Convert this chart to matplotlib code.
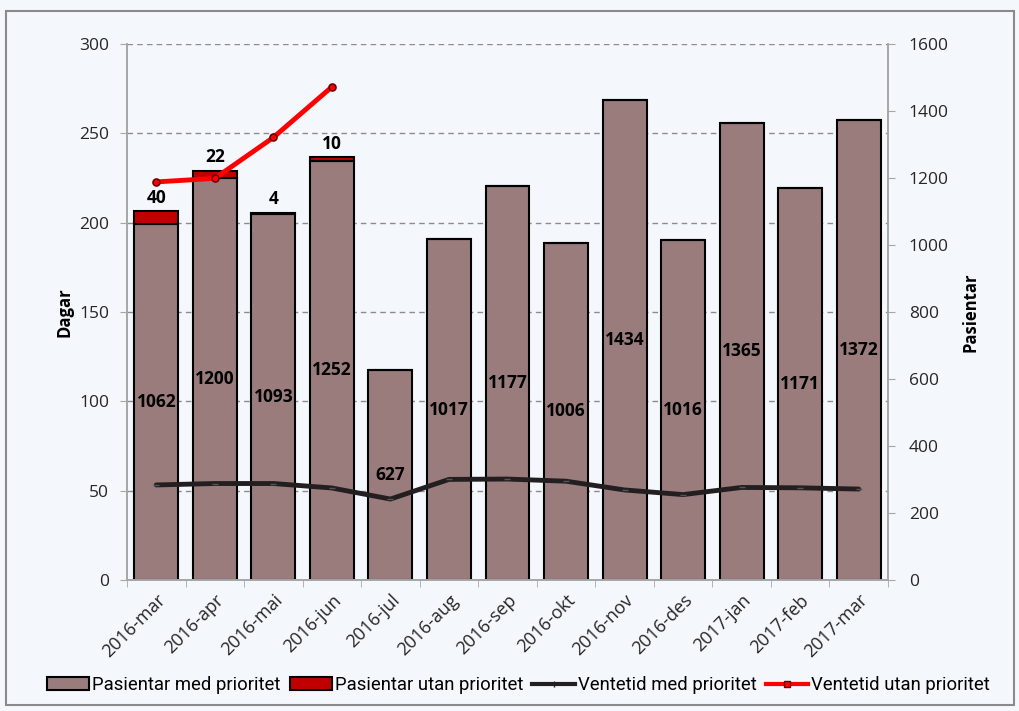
import matplotlib
matplotlib.use("Agg")
import matplotlib.pyplot as plt
import numpy as np
from matplotlib.patches import Rectangle, Patch
from matplotlib.lines import Line2D

categories = ["2016-mar", "2016-apr", "2016-mai", "2016-jun", "2016-jul", "2016-aug",
              "2016-sep", "2016-okt", "2016-nov", "2016-des", "2017-jan", "2017-feb", "2017-mar"]
pasientar_med = [1062, 1200, 1093, 1252, 627, 1017, 1177, 1006, 1434, 1016, 1365, 1171, 1372]
pasientar_utan = [40, 22, 4, 10, 0, 0, 0, 0, 0, 0, 0, 0, 0]
ventetid_med = [53.2, 54.0, 54.0, 51.5, 45.3, 56.3, 56.5, 55.3, 50.4, 47.8, 51.8, 51.6, 50.9]
ventetid_utan = [222.8, 224.8, 247.7, 276.0]

FONT = ["Open Sans", "DejaVu Sans"]
plt.rcParams['font.family'] = FONT

bg = "#F4F7FC"
bar_col = "#9A7C7D"
red_bar = "#C00000"
grid_col = "#8C8C8C"
axis_col = "#A6A6A6"

fig = plt.figure(figsize=(10.2, 7.11), dpi=100, facecolor=bg)
fig.patches.append(Rectangle((6/1020, 6/711), 1008/1020, 694/711, transform=fig.transFigure,
                             fill=False, edgecolor="#8A8A8A", linewidth=1.5, zorder=0))

ax = fig.add_axes([127/1020, 1 - 580/711, (888 - 127)/1020, (580 - 44)/711])
ax.set_facecolor(bg)
ax2 = ax.twinx()

x = np.arange(len(categories))
ax.set_zorder(ax2.get_zorder() + 1)
ax.patch.set_visible(False)
ax2.patch.set_visible(True)
ax2.patch.set_facecolor(bg)

ax.set_ylim(0, 300)
ax2.set_ylim(0, 1600)
ax.set_xlim(-0.5, len(categories) - 0.5)

ax2.set_yticks(np.arange(0, 1601, 200))
ax.set_yticks(np.arange(0, 301, 50))
for v in np.arange(50, 301, 50):
    ax2.axhline(v * 1600 / 300, color=grid_col, linestyle=(0, (4, 3)), linewidth=1.0, zorder=0)

w = 0.75
ax2.bar(x, pasientar_med, width=w, color=bar_col, edgecolor="black", linewidth=1.5, zorder=2)
ax2.bar(x, pasientar_utan, width=w, bottom=pasientar_med, color=red_bar, edgecolor="black",
        linewidth=1.5, zorder=2)

for i, v in enumerate(pasientar_med):
    ax2.text(x[i], v / 2, str(v), ha="center", va="center", fontsize=12.5, fontweight="bold",
             color="black", zorder=5)
for i, v in enumerate(pasientar_utan):
    if v:
        ax2.annotate(str(v), (x[i], pasientar_med[i] + v), xytext=(0, 3), textcoords="offset points",
                     ha="center", va="bottom", fontsize=12.5, fontweight="bold", zorder=5)

ax.plot(x, ventetid_med, color="#231F20", linewidth=3.5, marker="_", markersize=5,
        markeredgecolor="#555555", zorder=4, solid_capstyle="round")
xu = x[:len(ventetid_utan)]
ax.plot(xu, ventetid_utan, color="#FF0000", linewidth=3.5, zorder=4, solid_capstyle="round")
ax.plot(xu, ventetid_utan, linestyle="none", marker="o", markersize=5, markerfacecolor="#FF0000",
        markeredgecolor="#6B0000", markeredgewidth=1.2, zorder=5)

for a in (ax, ax2):
    a.spines["top"].set_visible(False)
    for s in ("left", "right", "bottom"):
        a.spines[s].set_color(axis_col)
        a.spines[s].set_linewidth(1.2)

ax.tick_params(axis="y", which="both", length=5, color=axis_col, labelsize=12.5, pad=8,
               labelcolor="#262626")
ax2.tick_params(axis="y", which="both", length=5, color=axis_col, labelsize=12.5, pad=10,
                labelcolor="#262626")
ax.set_xticks(x)
ax.set_xticklabels(categories, rotation=45, ha="right", rotation_mode="anchor", fontsize=13,
                   color="#262626")
ax.tick_params(axis="x", which="major", length=0, pad=8)
ax.set_xticks(np.arange(-0.5, len(categories), 1), minor=True)
ax.tick_params(axis="x", which="minor", length=5, color=axis_col)

ax.set_ylabel("Dagar", fontsize=12, fontweight="bold", labelpad=4)
ax2.set_ylabel("Pasientar", fontsize=12, fontweight="bold", labelpad=9)

handles = [
    Patch(facecolor=bar_col, edgecolor="black", linewidth=1.5, label="Pasientar med prioritet"),
    Patch(facecolor=red_bar, edgecolor="black", linewidth=1.5, label="Pasientar utan prioritet"),
    Line2D([0], [0], color="#231F20", linewidth=3, marker="|", markersize=4, label="Ventetid med prioritet"),
    Line2D([0], [0], color="#FF0000", linewidth=3, marker="s", markersize=4, markerfacecolor="#FF0000",
           markeredgecolor="#6B0000", label="Ventetid utan prioritet"),
]
fig.legend(handles=handles, loc="center", bbox_to_anchor=(0.508, 1 - 685/711), ncol=4, frameon=False,
           handlelength=2.3, handletextpad=0.15, columnspacing=0.5,
           prop={"family": ["Roboto", "DejaVu Sans"], "size": 13.3})

fig.savefig("out.png", dpi=100, facecolor=bg)
